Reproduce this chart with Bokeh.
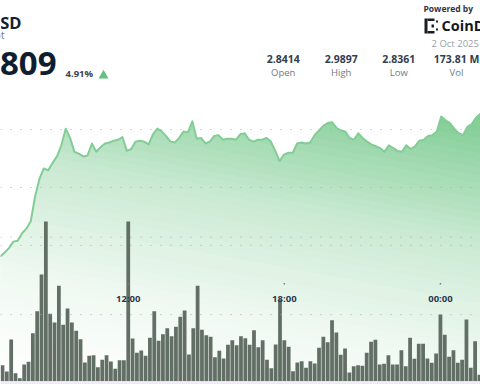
import numpy as np
from bokeh.plotting import figure
from bokeh.models import Range1d, Label, BoxAnnotation, Span
from bokeh.embed import file_html
from bokeh.resources import INLINE

title = "XRP / USD"
subtitle = "Spot"
last_price = "2.9809"
change = "4.91%"
stat_values = ["2.8414", "2.9897", "2.8361", "173.81 M"]
stat_names = ["Open", "High", "Low", "Vol"]
time_labels = ["12:00", "18:00", "00:00"]
time_minutes = [720, 1080, 1440]
price_grid = [2.9721, 2.9095, 2.8469]
volume_grid = [7.2, 3.33]

price = [2.835, 2.839, 2.844, 2.851, 2.852, 2.860, 2.865, 2.873, 2.900, 2.919,
         2.930, 2.928, 2.936, 2.943, 2.955, 2.973, 2.963, 2.948, 2.946, 2.943,
         2.944, 2.957, 2.948, 2.953, 2.957, 2.958, 2.960, 2.961, 2.964, 2.949,
         2.951, 2.959, 2.960, 2.959, 2.956, 2.967, 2.973, 2.970, 2.965, 2.959,
         2.958, 2.963, 2.970, 2.969, 2.981, 2.962, 2.963, 2.957, 2.959, 2.965,
         2.966, 2.961, 2.962, 2.962, 2.961, 2.967, 2.968, 2.961, 2.959, 2.961,
         2.961, 2.963, 2.959, 2.949, 2.938, 2.945, 2.947, 2.947, 2.957, 2.958,
         2.957, 2.958, 2.966, 2.971, 2.976, 2.979, 2.980, 2.974, 2.971, 2.970,
         2.963, 2.961, 2.968, 2.963, 2.959, 2.956, 2.954, 2.952, 2.948, 2.955,
         2.952, 2.949, 2.948, 2.955, 2.951, 2.954, 2.960, 2.961, 2.965, 2.966,
         2.970, 2.986, 2.982, 2.979, 2.973, 2.968, 2.966, 2.975, 2.978, 2.985, 2.989]

volume = [0.80, 0.48, 2.08, 0.40, 0.15, 0.83, 0.97, 2.40, 3.50, 5.33, 7.98, 3.37,
          2.93, 4.77, 2.82, 3.63, 2.93, 2.52, 2.10, 0.93, 1.27, 1.30, 0.70, 1.07,
          1.30, 0.98, 0.62, 1.05, 1.05, 7.98, 2.13, 1.42, 1.53, 1.27, 2.17, 3.50, 2.02,
          2.35, 2.65, 2.25, 2.72, 3.22, 3.53, 1.33, 2.65, 4.77, 2.57, 2.30, 2.22,
          1.20, 1.52, 1.13, 1.82, 2.05, 1.80, 2.25, 2.15, 1.82, 2.55, 1.70, 2.05,
          1.07, 0.65, 1.83, 4.07, 2.05, 1.72, 0.50, 0.93, 1.00, 0.67, 1.00, 0.88, 1.67,
          2.22, 1.95, 3.05, 2.43, 1.32, 1.63, 0.43, 0.75, 0.80, 0.77, 1.42, 1.97,
          2.07, 0.83, 0.87, 1.30, 0.83, 0.83, 1.55, 0.75, 2.17, 1.12, 1.87, 1.87,
          1.13, 0.92, 1.38, 3.33, 2.32, 1.22, 1.55, 0.92, 1.07, 3.08, 0.67, 2.00, 0.32]

bar_minutes = np.arange(len(volume)) * 10 + 430
line_minutes = np.linspace(424.7, 1532.4, len(price))

W, H = 480, 384
p = figure(width=W, height=H, output_backend="svg", toolbar_location=None,
           x_range=Range1d(425.39, 1532.4), y_range=Range1d(2.6967, 3.1114),
           min_border=0, min_border_left=0, min_border_right=0,
           min_border_top=0, min_border_bottom=0,
           outline_line_color=None, background_fill_color="white")
p.xaxis.visible = False
p.yaxis.visible = False
p.xgrid.visible = False
p.ygrid.visible = False
p.extra_y_ranges = {"vol": Range1d(-0.165, 19.035)}


def price_at(ypx):
    return 2.836 + (255 - ypx) * 0.00108


# area with a diagonal gradient, painted from light to dark
grid_m = np.linspace(line_minutes[0], line_minutes[-1], 480)
grid_x = 2 + (grid_m - 430) * 0.4336
line_on_grid = np.interp(grid_m, line_minutes, price)
stops_s = [0, .4, .63, .9, 1.03, 1.13, 1.34, 1.5]
stops_a = [0, .11, .24, .42, .58, .68, .92, 1]
base = (124, 203, 145)
p.varea(grid_m, np.full(grid_m.shape, price_at(381)), line_on_grid, fill_color="#fefffe")
for s in np.arange(0.03, 1.5, 0.03):
    a = np.interp(s, stops_s, stops_a)
    col = "#%02x%02x%02x" % tuple(int(round(255 + (c - 255) * a)) for c in base)
    boundary = price_at(380 - 250 * (s - grid_x / 1370))
    p.varea(grid_m, np.minimum(boundary, line_on_grid), line_on_grid, fill_color=col)

# dotted guides
for v in price_grid:
    p.add_layout(Span(location=v, dimension="width", line_color="#a9aeac",
                      line_width=1, line_dash="1 9"))
for v in volume_grid:
    p.add_layout(Span(location=v, dimension="width", y_range_name="vol", line_color="#a9aeac",
                      line_width=1, line_dash="1 9"))

# volume
p.vbar(x=bar_minutes, top=volume, bottom=0, width=8.7, y_range_name="vol",
       fill_color="#626f65", line_color=None)
p.add_layout(BoxAnnotation(top=0, y_range_name="vol", fill_color="#efeaf6", fill_alpha=1,
                           line_color=None))

# price line
p.line(line_minutes, price, line_color="#82cd95", line_width=2, line_join="round")


def label(x, y, text, size, color, weight="normal", align="left"):
    p.add_layout(Label(x=x, y=384 - y, x_units="screen", y_units="screen", text=text,
                       text_font="Open Sans", text_font_size=f"{size}px", text_color=color,
                       text_font_style=weight, text_align=align, text_baseline="middle"))


# time axis
for m, t in zip(time_minutes, time_labels):
    xpx = 2 + (m - 430) * 0.4336
    p.scatter([m], [4.87], y_range_name="vol", marker="square", size=1.5,
              fill_color="#777f80", line_color=None)
    label(xpx, 298, t, 9.5, "#2d3a50", "bold", "center")

# header
label(21, 22, title, 16.5, "#12202f", "bold", "right")
label(4, 34, subtitle, 10, "#6f7780", "normal", "right")
label(56, 63, last_price, 33, "#0e1d30", "bold", "right")
label(65, 73, change, 9.5, "#3a4350", "bold", "left")
tri_x = 425.39 + 103 / 0.4336
p.scatter([tri_x], [price_at(75)], marker="triangle", size=10, fill_color="#63c27c", line_color=None)

for xc, val, name in zip([282.7, 340.7, 398.3, 456], stat_values, stat_names):
    label(xc, 58, val, 10.5, "#333d4e", "bold", "center")
    label(xc, 72, name, 9.5, "#737b85", "normal", "center")

label(423, 8, "Powered by", 8.5, "#30353d", "bold", "left")
label(441, 25, "CoinDesk", 14.5, "#14181f", "bold", "left")
label(431, 43, "2 Oct 2025", 9.5, "#9a9fa5", "normal", "left")

# logo blocks (screen units)
for (lx, rx, ty, by) in [(424, 427, 18, 33), (427, 434, 18, 20.5), (427, 434, 30.5, 33),
                         (431, 433.5, 24, 27), (435.5, 437.5, 20, 22), (435.5, 437.5, 28, 30)]:
    p.add_layout(BoxAnnotation(left=lx, right=rx, top=384 - ty, bottom=384 - by,
                               left_units="screen", right_units="screen",
                               top_units="screen", bottom_units="screen",
                               fill_color="#1a1d22", fill_alpha=1, line_color=None))

open("out.html", "w").write(file_html(p, INLINE))
